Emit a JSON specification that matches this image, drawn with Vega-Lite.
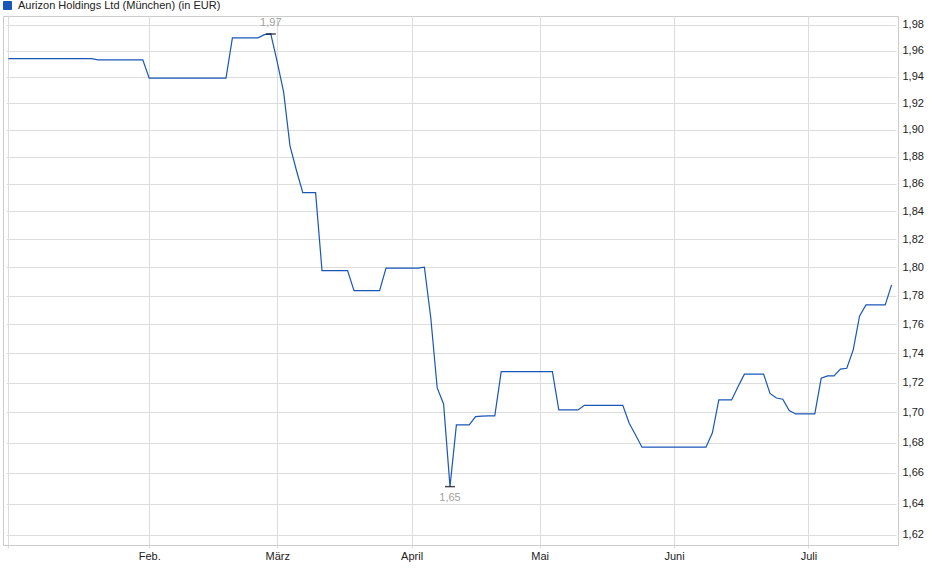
{
  "$schema": "https://vega.github.io/schema/vega-lite/v6.json",
  "autosize": {"type": "none"},
  "padding": {"left": 3, "top": 16, "right": 42, "bottom": 34},
  "width": 895,
  "height": 529,
  "background": "white",
  "data": {
    "values": [
      {"date": "2025-01-02", "price": 1.954},
      {"date": "2025-01-03", "price": 1.954},
      {"date": "2025-01-06", "price": 1.954},
      {"date": "2025-01-07", "price": 1.954},
      {"date": "2025-01-08", "price": 1.954},
      {"date": "2025-01-09", "price": 1.954},
      {"date": "2025-01-10", "price": 1.954},
      {"date": "2025-01-13", "price": 1.954},
      {"date": "2025-01-14", "price": 1.954},
      {"date": "2025-01-15", "price": 1.954},
      {"date": "2025-01-16", "price": 1.954},
      {"date": "2025-01-17", "price": 1.954},
      {"date": "2025-01-20", "price": 1.954},
      {"date": "2025-01-21", "price": 1.954},
      {"date": "2025-01-22", "price": 1.953},
      {"date": "2025-01-23", "price": 1.953},
      {"date": "2025-01-24", "price": 1.953},
      {"date": "2025-01-27", "price": 1.953},
      {"date": "2025-01-28", "price": 1.953},
      {"date": "2025-01-29", "price": 1.953},
      {"date": "2025-01-30", "price": 1.953},
      {"date": "2025-01-31", "price": 1.953},
      {"date": "2025-02-03", "price": 1.939},
      {"date": "2025-02-04", "price": 1.939},
      {"date": "2025-02-05", "price": 1.939},
      {"date": "2025-02-06", "price": 1.939},
      {"date": "2025-02-07", "price": 1.939},
      {"date": "2025-02-10", "price": 1.939},
      {"date": "2025-02-11", "price": 1.939},
      {"date": "2025-02-12", "price": 1.939},
      {"date": "2025-02-13", "price": 1.939},
      {"date": "2025-02-14", "price": 1.939},
      {"date": "2025-02-17", "price": 1.939},
      {"date": "2025-02-18", "price": 1.939},
      {"date": "2025-02-19", "price": 1.939},
      {"date": "2025-02-20", "price": 1.970},
      {"date": "2025-02-21", "price": 1.970},
      {"date": "2025-02-24", "price": 1.970},
      {"date": "2025-02-25", "price": 1.970},
      {"date": "2025-02-26", "price": 1.970},
      {"date": "2025-02-27", "price": 1.9725},
      {"date": "2025-02-28", "price": 1.973},
      {"date": "2025-03-03", "price": 1.9515},
      {"date": "2025-03-04", "price": 1.9285},
      {"date": "2025-03-05", "price": 1.888},
      {"date": "2025-03-06", "price": 1.870},
      {"date": "2025-03-07", "price": 1.8536},
      {"date": "2025-03-10", "price": 1.8536},
      {"date": "2025-03-11", "price": 1.8536},
      {"date": "2025-03-12", "price": 1.7976},
      {"date": "2025-03-13", "price": 1.7976},
      {"date": "2025-03-14", "price": 1.7976},
      {"date": "2025-03-17", "price": 1.7976},
      {"date": "2025-03-18", "price": 1.7976},
      {"date": "2025-03-19", "price": 1.7835},
      {"date": "2025-03-20", "price": 1.7835},
      {"date": "2025-03-21", "price": 1.7835},
      {"date": "2025-03-24", "price": 1.7835},
      {"date": "2025-03-25", "price": 1.7835},
      {"date": "2025-03-26", "price": 1.7993},
      {"date": "2025-03-27", "price": 1.7993},
      {"date": "2025-03-28", "price": 1.7993},
      {"date": "2025-03-31", "price": 1.7993},
      {"date": "2025-04-01", "price": 1.7993},
      {"date": "2025-04-02", "price": 1.7993},
      {"date": "2025-04-03", "price": 1.800},
      {"date": "2025-04-04", "price": 1.7644},
      {"date": "2025-04-07", "price": 1.7165},
      {"date": "2025-04-08", "price": 1.7057},
      {"date": "2025-04-09", "price": 1.6511},
      {"date": "2025-04-10", "price": 1.6917},
      {"date": "2025-04-11", "price": 1.6917},
      {"date": "2025-04-14", "price": 1.6917},
      {"date": "2025-04-15", "price": 1.6972},
      {"date": "2025-04-16", "price": 1.6975},
      {"date": "2025-04-17", "price": 1.6977},
      {"date": "2025-04-22", "price": 1.6977},
      {"date": "2025-04-23", "price": 1.7275},
      {"date": "2025-04-24", "price": 1.7275},
      {"date": "2025-04-25", "price": 1.7275},
      {"date": "2025-04-28", "price": 1.7275},
      {"date": "2025-04-29", "price": 1.7275},
      {"date": "2025-04-30", "price": 1.7275},
      {"date": "2025-05-02", "price": 1.7275},
      {"date": "2025-05-05", "price": 1.7275},
      {"date": "2025-05-06", "price": 1.7275},
      {"date": "2025-05-07", "price": 1.7017},
      {"date": "2025-05-08", "price": 1.7017},
      {"date": "2025-05-09", "price": 1.7017},
      {"date": "2025-05-12", "price": 1.7017},
      {"date": "2025-05-13", "price": 1.7048},
      {"date": "2025-05-14", "price": 1.7048},
      {"date": "2025-05-15", "price": 1.7048},
      {"date": "2025-05-16", "price": 1.7048},
      {"date": "2025-05-19", "price": 1.7048},
      {"date": "2025-05-20", "price": 1.7048},
      {"date": "2025-05-21", "price": 1.7048},
      {"date": "2025-05-22", "price": 1.6928},
      {"date": "2025-05-23", "price": 1.685},
      {"date": "2025-05-26", "price": 1.6769},
      {"date": "2025-05-27", "price": 1.6769},
      {"date": "2025-05-28", "price": 1.6769},
      {"date": "2025-05-29", "price": 1.6769},
      {"date": "2025-05-30", "price": 1.6769},
      {"date": "2025-06-02", "price": 1.6769},
      {"date": "2025-06-03", "price": 1.6769},
      {"date": "2025-06-04", "price": 1.6769},
      {"date": "2025-06-05", "price": 1.6769},
      {"date": "2025-06-06", "price": 1.6769},
      {"date": "2025-06-09", "price": 1.6769},
      {"date": "2025-06-10", "price": 1.6864},
      {"date": "2025-06-11", "price": 1.7084},
      {"date": "2025-06-12", "price": 1.7084},
      {"date": "2025-06-13", "price": 1.7084},
      {"date": "2025-06-16", "price": 1.7172},
      {"date": "2025-06-17", "price": 1.7258},
      {"date": "2025-06-18", "price": 1.7258},
      {"date": "2025-06-19", "price": 1.7258},
      {"date": "2025-06-20", "price": 1.7258},
      {"date": "2025-06-23", "price": 1.7128},
      {"date": "2025-06-24", "price": 1.7097},
      {"date": "2025-06-25", "price": 1.7089},
      {"date": "2025-06-26", "price": 1.7012},
      {"date": "2025-06-27", "price": 1.699},
      {"date": "2025-06-30", "price": 1.699},
      {"date": "2025-07-01", "price": 1.699},
      {"date": "2025-07-02", "price": 1.699},
      {"date": "2025-07-03", "price": 1.723},
      {"date": "2025-07-04", "price": 1.7246},
      {"date": "2025-07-07", "price": 1.7246},
      {"date": "2025-07-08", "price": 1.7292},
      {"date": "2025-07-09", "price": 1.7298},
      {"date": "2025-07-10", "price": 1.7424},
      {"date": "2025-07-11", "price": 1.7658},
      {"date": "2025-07-14", "price": 1.7735},
      {"date": "2025-07-15", "price": 1.7735},
      {"date": "2025-07-16", "price": 1.7735},
      {"date": "2025-07-17", "price": 1.7735},
      {"date": "2025-07-18", "price": 1.7875}
    ]
  },
  "encoding": {
    "x": {
      "field": "date",
      "type": "ordinal",
      "scale": {"type": "point", "range": [2.2, 891.8]},
      "title": null,
      "axis": {
        "values": ["2025-01-02", "2025-02-03", "2025-03-03", "2025-04-01", "2025-05-02", "2025-06-02", "2025-07-01"],
        "labelExpr": "['', '', 'Feb.', 'März', 'April', 'Mai', 'Juni', 'Juli'][toNumber(substring(datum.value, 5, 7))]",
        "labelAngle": 0,
        "grid": true,
        "gridColor": "#dcdcdc",
        "tickSize": 3,
        "tickColor": "#dcdcdc",
        "domainColor": "#cccccc",
        "labelPadding": 2,
        "labelFont": "Liberation Sans",
        "labelFontSize": 11,
        "labelColor": "#222222"
      }
    },
    "y": {
      "field": "price",
      "type": "quantitative",
      "scale": {"type": "log", "domain": [1.6136, 1.987], "nice": false, "zero": false},
      "title": null,
      "axis": {
        "orient": "right",
        "values": [1.62, 1.64, 1.66, 1.68, 1.70, 1.72, 1.74, 1.76, 1.78, 1.80, 1.82, 1.84, 1.86, 1.88, 1.90, 1.92, 1.94, 1.96, 1.98],
        "labelExpr": "replace(format(datum.value, '.2f'), '.', ',')",
        "grid": true,
        "gridColor": "#dcdcdc",
        "ticks": false,
        "labelPadding": 4,
        "domainColor": "#cccccc",
        "labelFont": "Liberation Sans",
        "labelFontSize": 11,
        "labelColor": "#222222"
      }
    }
  },
  "layer": [
    {
      "mark": {"type": "line", "strokeWidth": 1.2},
      "encoding": {
        "color": {
          "datum": "Aurizon Holdings Ltd (München) (in EUR)",
          "scale": {"range": ["#1a56b8"]},
          "legend": {
            "title": null,
            "orient": "none",
            "legendX": -1,
            "legendY": -16,
            "padding": 0,
            "symbolType": "square",
            "symbolSize": 64,
            "symbolStrokeColor": "#1a2f66",
            "symbolStrokeWidth": 1,
            "symbolFillColor": "#1a56b8",
            "labelFont": "Liberation Sans",
            "labelFontSize": 11,
            "labelColor": "#222222",
            "labelOffset": 5,
            "labelLimit": 500
          }
        }
      }
    },
    {
      "transform": [
        {"joinaggregate": [{"op": "max", "field": "price", "as": "pmax"}]},
        {"filter": "datum.price == datum.pmax"}
      ],
      "layer": [
        {"mark": {"type": "tick", "color": "black", "size": 10, "thickness": 1.5}},
        {
          "mark": {"type": "text", "dy": -11, "font": "Liberation Sans", "fontSize": 11, "color": "#a0a0a0"},
          "encoding": {"text": {"value": "1,97"}}
        }
      ]
    },
    {
      "transform": [
        {"joinaggregate": [{"op": "min", "field": "price", "as": "pmin"}]},
        {"filter": "datum.price == datum.pmin"}
      ],
      "layer": [
        {"mark": {"type": "tick", "color": "black", "size": 10, "thickness": 1.5}},
        {
          "mark": {"type": "text", "dy": 11, "font": "Liberation Sans", "fontSize": 11, "color": "#a0a0a0"},
          "encoding": {"text": {"value": "1,65"}}
        }
      ]
    }
  ],
  "config": {
    "view": {"stroke": "#cccccc"}
  }
}
